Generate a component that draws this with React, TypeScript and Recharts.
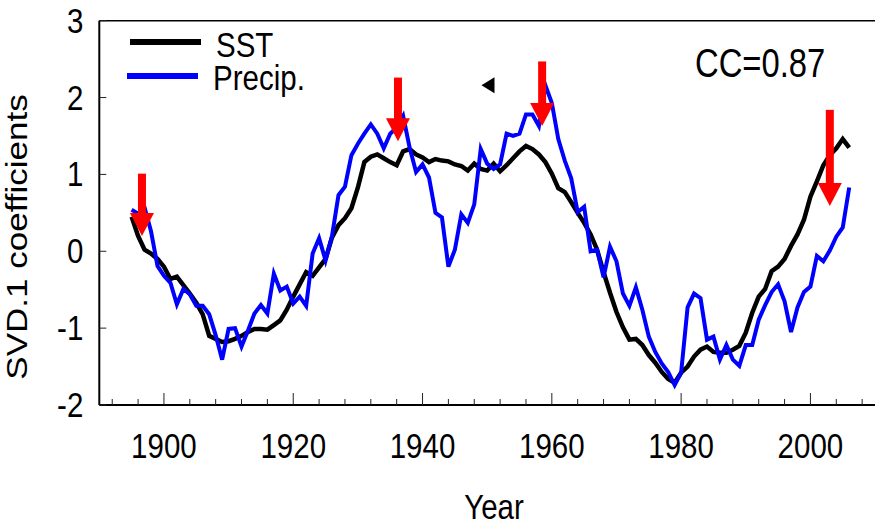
import React from 'react';
import { LineChart, Line, XAxis, YAxis, ReferenceLine, ReferenceDot, Legend } from 'recharts';

// annual series, first value is 1895
const FIRST_YEAR = 1895;

const sst = [
  0.45, 0.2, 0.02, -0.03, -0.1, -0.2, -0.36, -0.33, -0.44, -0.55,
  -0.67, -0.82, -1.1, -1.14, -1.18, -1.17, -1.14, -1.1, -1.05, -1.01,
  -1.01, -1.02, -0.96, -0.9, -0.76, -0.59, -0.43, -0.27, -0.32, -0.21,
  -0.1, 0.18, 0.34, 0.43, 0.56, 0.83, 1.16, 1.23, 1.26, 1.21,
  1.16, 1.12, 1.3, 1.33, 1.26, 1.22, 1.16, 1.2, 1.18, 1.17,
  1.13, 1.11, 1.05, 1.14, 1.07, 1.05, 1.14, 1.04, 1.12, 1.21,
  1.3, 1.37, 1.33, 1.26, 1.16, 1.01, 0.82, 0.77, 0.64, 0.5,
  0.37, 0.22, 0.02, -0.27, -0.54, -0.79, -0.99, -1.15, -1.14, -1.22,
  -1.35, -1.45, -1.57, -1.66, -1.71, -1.58, -1.5, -1.37, -1.28, -1.24,
  -1.31, -1.32, -1.32, -1.28, -1.23, -1.06, -0.8, -0.59, -0.49, -0.26,
  -0.2, -0.1, 0.07, 0.22, 0.41, 0.71, 0.91, 1.12, 1.25, 1.34,
  1.46, 1.35,
];

const precip = [
  0.54, 0.49, 0.57, 0.26, -0.19, -0.32, -0.41, -0.69, -0.49, -0.56,
  -0.71, -0.71, -0.82, -1.09, -1.41, -1.01, -1.0, -1.24, -1.03, -0.81,
  -0.7, -0.81, -0.29, -0.51, -0.46, -0.68, -0.59, -0.71, -0.03, 0.17,
  -0.12, 0.2, 0.73, 0.84, 1.25, 1.4, 1.53, 1.65, 1.53, 1.34,
  1.53, 1.61, 1.76, 1.35, 1.03, 1.13, 0.96, 0.5, 0.44, -0.2,
  0.02, 0.48, 0.37, 0.61, 1.33, 1.14, 1.07, 1.13, 1.53, 1.5,
  1.53, 1.78, 1.78, 1.63, 2.16, 1.93, 1.46, 1.18, 0.95, 0.51,
  0.58, 0.0, 0.02, -0.34, 0.06, -0.13, -0.55, -0.71, -0.47, -0.76,
  -1.11, -1.31, -1.46, -1.57, -1.74, -1.58, -0.73, -0.55, -0.61, -1.15,
  -1.11, -1.41, -1.22, -1.41, -1.49, -1.22, -1.22, -0.89, -0.7, -0.53,
  -0.43, -0.65, -1.05, -0.73, -0.53, -0.46, -0.06, -0.13, 0.01, 0.19,
  0.31, 0.83,
];

const xTicks = [
  1892, 1896, 1900, 1904, 1908, 1912, 1916, 1920, 1924, 1928, 1932, 1936, 1940, 1944, 1948,
  1952, 1956, 1960, 1964, 1968, 1972, 1976, 1980, 1984, 1988, 1992, 1996, 2000, 2004, 2008,
];
const xLabelled = [1900, 1920, 1940, 1960, 1980, 2000];
const yTicks = [-2, -1, 0, 1, 2, 3];

// red arrows: year, top of shaft, tip of head
const arrowYear = [1896.6, 1936.2, 1958.5, 2003.0];
const arrowTop = [1.01, 2.26, 2.47, 1.84];
const arrowTip = [0.2, 1.43, 1.63, 0.59];

const markerYear = 1950.2;
const markerValue = 2.16;

const data = sst.map((v, i) => ({ year: FIRST_YEAR + i, sst: v, precip: precip[i] }));

const SANS = "'Liberation Sans', Arial, sans-serif";
const SQUEEZE = 0.82; // the figure's text is horizontally condensed

// condensed text, drawn with a horizontal scale around its anchor point
const Narrow = ({ x, y, size = 36, anchor = 'start', rotate = 0, children }: any) => (
  <text
    transform={`translate(${x},${y}) scale(${SQUEEZE},1)${rotate ? ` rotate(${rotate})` : ''}`}
    textAnchor={anchor}
    fontFamily={SANS}
    fontSize={size}
    fill="#000"
  >
    {children}
  </text>
);

const XTick = (props: any) => {
  const { x, y, payload } = props;
  const major = xLabelled.includes(payload.value);
  return (
    <g>
      <line x1={x} x2={x} y1={y} y2={y - (major ? 12 : 6)} stroke="#222" strokeWidth={1} />
      {major && <Narrow x={x} y={y + 53} anchor="middle">{payload.value}</Narrow>}
    </g>
  );
};

const YTick = (props: any) => {
  const { x, y, payload } = props;
  return (
    <g>
      <line x1={x} x2={x + 7} y1={y} y2={y} stroke="#222" strokeWidth={1} />
      <Narrow x={x - 16} y={y + 12} anchor="end">{payload.value}</Narrow>
    </g>
  );
};

const headShape = (p: any) => (
  <polygon points={`${p.cx - 12},${p.cy - 23} ${p.cx + 12},${p.cy - 23} ${p.cx},${p.cy}`} fill="#ff0000" />
);

const markerShape = (p: any) => (
  <polygon points={`${p.cx - 7},${p.cy} ${p.cx + 6},${p.cy - 8} ${p.cx + 6},${p.cy + 8}`} fill="#000" />
);

const renderLegend = () => (
  <svg width={320} height={100}>
    <line x1={130} x2={201} y1={42} y2={42} stroke="#000" strokeWidth={6} />
    <Narrow x={216} y={57}>SST</Narrow>
    <line x1={127} x2={198} y1={76} y2={76} stroke="#0000ff" strokeWidth={6} />
    <Narrow x={213} y={90}>Precip.</Narrow>
  </svg>
);

export default function App() {
  return (
    <div style={{ position: 'absolute', left: 0, top: 0, width: 875, height: 526, overflow: 'hidden', background: '#fff' }}>
      <LineChart width={900} height={526} data={data} margin={{ top: 20.7, right: 12, bottom: 61, left: 39.3 }}>
        <XAxis
          dataKey="year"
          type="number"
          domain={[1890, 2012]}
          ticks={xTicks}
          interval={0}
          height={60}
          tickSize={0}
          tickMargin={0}
          tickLine={false}
          tick={<XTick />}
          axisLine={{ stroke: '#000', strokeWidth: 2 }}
          allowDataOverflow
          label={{ content: () => <Narrow x={494} y={519} anchor="middle">Year</Narrow> }}
        />
        <YAxis
          type="number"
          domain={[-2, 3]}
          ticks={yTicks}
          interval={0}
          width={60}
          tickSize={0}
          tickMargin={0}
          tickLine={false}
          tick={<YTick />}
          axisLine={{ stroke: '#000', strokeWidth: 2 }}
          allowDataOverflow
          label={{
            content: () => (
              <Narrow x={27} y={237} size={35} anchor="middle" rotate={-90}>SVD.1 coefficients</Narrow>
            ),
          }}
        />
        <ReferenceLine y={3} stroke="#000" strokeWidth={1.5} />
        <Legend layout="horizontal" verticalAlign="middle" align="center" content={renderLegend}
          wrapperStyle={{ left: 0, top: 0, width: 320, height: 100 }} />
        <Line dataKey="sst" type="linear" stroke="#000" strokeWidth={4.5} dot={false} isAnimationActive={false} />
        <Line dataKey="precip" type="linear" stroke="#0000ff" strokeWidth={4} dot={false} isAnimationActive={false} />
        {arrowYear.map((yr, i) => (
          <ReferenceLine
            key={`s${i}`}
            segment={[{ x: yr, y: arrowTop[i] }, { x: yr, y: arrowTip[i] + 0.28 }]}
            stroke="#ff0000"
            strokeWidth={8}
          />
        ))}
        {arrowYear.map((yr, i) => (
          <ReferenceDot key={`h${i}`} x={yr} y={arrowTip[i]} r={12} shape={headShape} />
        ))}
        <ReferenceDot x={markerYear} y={markerValue} r={8} shape={markerShape} />
      </LineChart>
      <svg style={{ position: 'absolute', left: 0, top: 0 }} width={875} height={526} pointerEvents="none">
        <Narrow x={695} y={77} size={40}>CC=0.87</Narrow>
      </svg>
    </div>
  );
}
